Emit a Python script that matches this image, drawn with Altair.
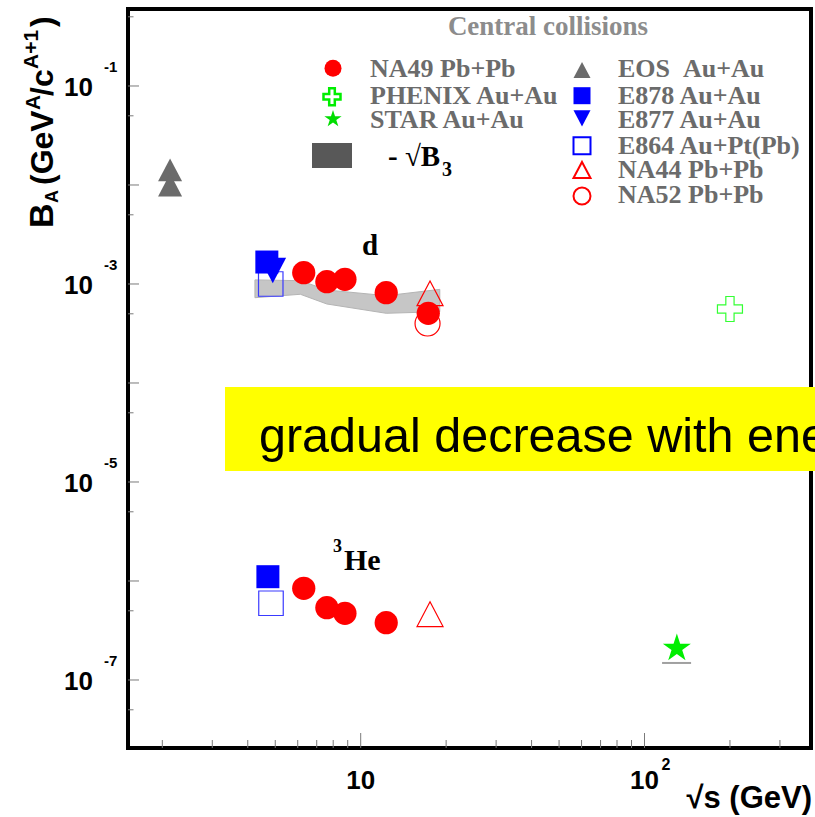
import altair as alt
import pandas as pd

# ---------------- deuterons: B2 versus sqrt(s_NN) ----------------
NA49_D_SQRTS = [6.3, 7.6, 8.8, 12.3, 17.3]
NA49_D_B = [1.30e-3, 1.055e-3, 1.116e-3, 8.17e-4, 5.06e-4]
E878_D_SQRTS = [4.67]
E878_D_B = [1.667e-3]
E877_D_SQRTS = [4.90]
E877_D_B = [1.37e-3]
E864_D_SQRTS = [4.82]
E864_D_B = [1.0e-3]
NA44_D_SQRTS = [17.55]
NA44_D_B = [8.05e-4]
NA52_D_SQRTS = [17.2]
NA52_D_B = [3.99e-4]
PHENIX_D_SQRTS = [200.0]
PHENIX_D_B = [5.59e-4]
EOS_D_SQRTS = [2.13, 2.13]
EOS_D_B = [1.42e-2, 1.00e-2]

# ---------------- sqrt(B3) band ----------------
SQRTB3_SQRTS = [4.24, 6.13, 7.6, 12.3, 19.0]
SQRTB3_LO = [7.27e-4, 7.87e-4, 6.28e-4, 5.06e-4, 5.25e-4]
SQRTB3_HI = [1.10e-3, 1.08e-3, 8.70e-4, 7.62e-4, 8.83e-4]

# ---------------- 3He: B3 versus sqrt(s_NN) ----------------
NA49_HE_SQRTS = [6.3, 7.6, 8.8, 12.3]
NA49_HE_B = [8.44e-7, 5.37e-7, 4.72e-7, 3.79e-7]
E878_HE_SQRTS = [4.71]
E878_HE_B = [1.105e-6]
E864_HE_SQRTS = [4.83]
E864_HE_B = [5.96e-7]
NA44_HE_SQRTS = [17.55]
NA44_HE_B = [4.62e-7]
STAR_HE_SQRTS = [130.0]
STAR_HE_B = [2.09e-7]
STAR_HE_SYS_SQRTS = [115.3, 145.9]
STAR_HE_SYS_B = [1.486e-7, 1.486e-7]

# ---------------- axes ----------------
X_DOMAIN = [1.514, 386.0]
Y_DOMAIN = [2.056e-8, 0.5995]
Y_LABEL_VALUES = [1e-1, 1e-3, 1e-5, 1e-7]
Y_LABEL_EXPONENTS = ["-1", "-3", "-5", "-7"]
X_LABEL_VALUES = [10, 100]
X_LABEL_EXPONENTS = ["", "2"]
Y_MAJOR = [10.0 ** -k for k in range(1, 8)]
Y_MINOR = [5 * 10.0 ** -k for k in range(1, 9)]
X_MAJOR = [10, 100]
X_MINOR = [m * d for d in (1, 10, 100) for m in range(2, 10) if 1.514 < m * d < 386]

LEGEND_LEFT = ["NA49 Pb+Pb", "PHENIX Au+Au", "STAR Au+Au"]
LEGEND_RIGHT = ["EOS\u00a0\u00a0Au+Au", "E878 Au+Au", "E877 Au+Au",
                "E864 Au+Pt(Pb)", "NA44 Pb+Pb", "NA52 Pb+Pb"]

# ---------------- layout ----------------
W, H = 683, 739
LEFT, TOP = 128, 9

SERIF = "Liberation Serif"
SANS = "Liberation Sans"
RED = "#ff0000"
BLUE = "#0000ff"
GREY = "#6b6b6b"

TRI_UP = "M0,-0.95L1,0.95L-1,0.95Z"
TRI_DOWN = "M-1,-0.95L1,-0.95L0,0.95Z"
CROSS = ("M-0.33,-1L0.33,-1L0.33,-0.33L1,-0.33L1,0.33L0.33,0.33L0.33,1"
         "L-0.33,1L-0.33,0.33L-1,0.33L-1,-0.33L-0.33,-0.33Z")
STAR = ("M0,-1L0.2245,-0.309L0.951,-0.309L0.3633,0.118L0.588,0.809L0,0.382"
        "L-0.588,0.809L-0.3633,0.118L-0.951,-0.309L-0.2245,-0.309Z")

xs = alt.Scale(type="log", domain=X_DOMAIN, nice=False)
ys = alt.Scale(type="log", domain=Y_DOMAIN, nice=False)


def X(field="x"):
    return alt.X(f"{field}:Q", scale=xs, axis=None)


def Y(field="y"):
    return alt.Y(f"{field}:Q", scale=ys, axis=None)


def points(xv, yv, **mark):
    df = pd.DataFrame({"x": xv, "y": yv})
    return alt.Chart(df).mark_point(opacity=1, **mark).encode(x=X(), y=Y())


def text(s, px, py, size, font=SERIF, weight="bold", color="black",
         align="left", angle=0):
    return alt.Chart(pd.DataFrame({"t": [s]})).mark_text(
        font=font, fontSize=size, fontWeight=weight, color=color,
        align=align, baseline="alphabetic", angle=angle,
    ).encode(x=alt.value(px - LEFT), y=alt.value(py - TOP), text="t:N")


def key(px, py, **mark):
    return alt.Chart(pd.DataFrame({"k": [0]})).mark_point(opacity=1, **mark).encode(
        x=alt.value(px - LEFT), y=alt.value(py - TOP))


layers = []

# sqrt(B3) band
band_df = pd.DataFrame({"x": SQRTB3_SQRTS, "lo": SQRTB3_LO, "hi": SQRTB3_HI})
layers.append(alt.Chart(band_df).mark_area(
    color="#c6c6c6", opacity=1, stroke="#b4b4b4", strokeWidth=1).encode(
    x=X(), y=Y("lo"), y2="hi:Q"))

# STAR systematic bar
sys_df = pd.DataFrame({"x": STAR_HE_SYS_SQRTS, "y": STAR_HE_SYS_B})
layers.append(alt.Chart(sys_df).mark_line(color="#a0a0a0", strokeWidth=2).encode(
    x=X(), y=Y()))

# open markers
layers.append(points(NA52_D_SQRTS, NA52_D_B, shape="circle", size=625,
                     filled=False, color=RED, strokeWidth=1.2))
layers.append(points(NA44_D_SQRTS, NA44_D_B, shape=TRI_UP, size=676,
                     filled=False, color=RED, strokeWidth=1.2))
layers.append(points(NA44_HE_SQRTS, NA44_HE_B, shape=TRI_UP, size=676,
                     filled=False, color=RED, strokeWidth=1.2))
layers.append(points(E864_D_SQRTS, E864_D_B, shape="square", size=600,
                     filled=False, color="#3a3aff", strokeWidth=1.2))
layers.append(points(E864_HE_SQRTS, E864_HE_B, shape="square", size=600,
                     filled=False, color="#3a3aff", strokeWidth=1.2))
layers.append(points(PHENIX_D_SQRTS, PHENIX_D_B, shape=CROSS, size=625,
                     filled=False, color="#33ff33", strokeWidth=1.2))

# filled markers
layers.append(points(E878_D_SQRTS, E878_D_B, shape="square", size=529,
                     filled=True, color=BLUE))
layers.append(points(E878_HE_SQRTS, E878_HE_B, shape="square", size=529,
                     filled=True, color=BLUE))
layers.append(points(E877_D_SQRTS, E877_D_B, shape=TRI_DOWN, size=713,
                     filled=True, color=BLUE))
layers.append(points(NA49_D_SQRTS, NA49_D_B, shape="circle", size=540,
                     filled=True, color=RED))
layers.append(points(NA49_HE_SQRTS, NA49_HE_B, shape="circle", size=540,
                     filled=True, color=RED))
layers.append(points(EOS_D_SQRTS, EOS_D_B, shape=TRI_UP, size=576,
                     filled=True, color=GREY))
layers.append(points(STAR_HE_SQRTS, STAR_HE_B, shape=STAR, size=866,
                     filled=True, color="#00ee00"))


# ticks drawn inside the frame
def yticks(vals, length):
    return alt.Chart(pd.DataFrame({"y": vals})).mark_rule(
        color="#7a7a7a", strokeWidth=1).encode(
        y=Y(), x=alt.value(0), x2=alt.value(length))


def xticks(vals, length):
    return alt.Chart(pd.DataFrame({"x": vals})).mark_rule(
        color="#7a7a7a", strokeWidth=1).encode(
        x=X(), y=alt.value(H), y2=alt.value(H - length))


layers += [yticks(Y_MAJOR, 11), yticks(Y_MINOR, 5.5),
           xticks(X_MAJOR, 15), xticks(X_MINOR, 8)]

# tick labels: 10 with exponent
ylab_df = pd.DataFrame({"y": Y_LABEL_VALUES, "e": Y_LABEL_EXPONENTS})
layers.append(alt.Chart(ylab_df).mark_text(
    font=SANS, fontSize=26, fontWeight="bold", align="right",
    baseline="alphabetic", dy=10, color="black").encode(
    y=Y(), x=alt.value(93 - LEFT), text=alt.value("10")))
layers.append(alt.Chart(ylab_df).mark_text(
    font=SANS, fontSize=15, fontWeight="bold", align="left",
    baseline="alphabetic", dy=-14, color="black").encode(
    y=Y(), x=alt.value(104 - LEFT), text="e:N"))

xlab_df = pd.DataFrame({"x": X_LABEL_VALUES, "e": X_LABEL_EXPONENTS})
layers.append(alt.Chart(xlab_df).mark_text(
    font=SANS, fontSize=26, fontWeight="bold", align="center",
    baseline="alphabetic", color="black").encode(
    x=X(), y=alt.value(789 - TOP), text=alt.value("10")))
layers.append(alt.Chart(xlab_df).mark_text(
    font=SANS, fontSize=16, fontWeight="bold", align="left",
    baseline="alphabetic", dx=17, color="black").encode(
    x=X(), y=alt.value(770 - TOP), text="e:N"))

# axis titles
layers.append(text("\u221as (GeV)", 812, 808, 31, font=SANS, align="right"))
for s, px, py, size in [("B", 53, 228, 34), ("A", 57.5, 203, 18),
                        ("(GeV", 53, 185, 32), ("A", 40, 110, 21),
                        ("/c", 53, 96, 32), ("A+1", 38, 69, 21),
                        (")", 53, 27, 32)]:
    layers.append(text(s, px, py, size, font=SANS, angle=270))

# particle labels
layers.append(text("d", 370, 255, 29, align="center"))
layers.append(text("3", 333, 552, 18))
layers.append(text("He", 344, 570, 30))

# legend
layers.append(text("Central collisions", 548, 35, 27, color="#8c8c8c",
                   align="center"))
for s, py in zip(LEGEND_LEFT, [77.3, 104, 128.3]):
    layers.append(text(s, 370, py, 26, color=GREY))
for s, py in zip(LEGEND_RIGHT, [77.3, 104, 128.3, 154, 178.3, 203.3]):
    layers.append(text(s, 618, py, 26, color=GREY))

layers += [
    key(333, 68.3, shape="circle", size=289, filled=True, color=RED),
    key(332, 96.7, shape=CROSS, size=289, filled=False, color="#00ee00",
        strokeWidth=2.5),
    key(333, 119, shape=STAR, size=330, filled=True, color="#00dd00"),
    key(582, 70, shape=TRI_UP, size=289, filled=True, color=GREY),
    key(582, 95.7, shape="square", size=289, filled=True, color=BLUE),
    key(582, 118.3, shape=TRI_DOWN, size=289, filled=True, color=BLUE),
    key(582, 145.7, shape="square", size=289, filled=False, color=BLUE,
        strokeWidth=2),
    key(582, 170, shape=TRI_UP, size=289, filled=False, color=RED,
        strokeWidth=2),
    key(582, 196, shape="circle", size=289, filled=False, color=RED,
        strokeWidth=2),
]
layers.append(alt.Chart(pd.DataFrame({"k": [0]})).mark_rect(
    color="#585858").encode(
    x=alt.value(312 - LEFT), x2=alt.value(352 - LEFT),
    y=alt.value(143 - TOP), y2=alt.value(168 - TOP)))
layers.append(text("- \u221aB", 388, 166, 29))
layers.append(text("3", 442, 176, 20))

# highlighted caption
layers.append(alt.Chart(pd.DataFrame({"k": [0]})).mark_rect(
    color="#ffff00").encode(
    x=alt.value(225 - LEFT), x2=alt.value(760),
    y=alt.value(387 - TOP), y2=alt.value(471 - TOP)))
layers.append(text("gradual decrease with energy", 259, 452, 48.5,
                   font=SANS, weight="normal"))

chart = alt.layer(*layers).properties(
    width=W, height=H,
    autosize=alt.AutoSizeParams(type="none"),
    padding={"left": LEFT, "top": TOP, "right": 815 - LEFT - W,
             "bottom": 817 - TOP - H},
    background="white",
).configure_view(stroke="black", strokeWidth=4)

chart.save("out.html", embed_options={"renderer": "svg", "actions": False})
